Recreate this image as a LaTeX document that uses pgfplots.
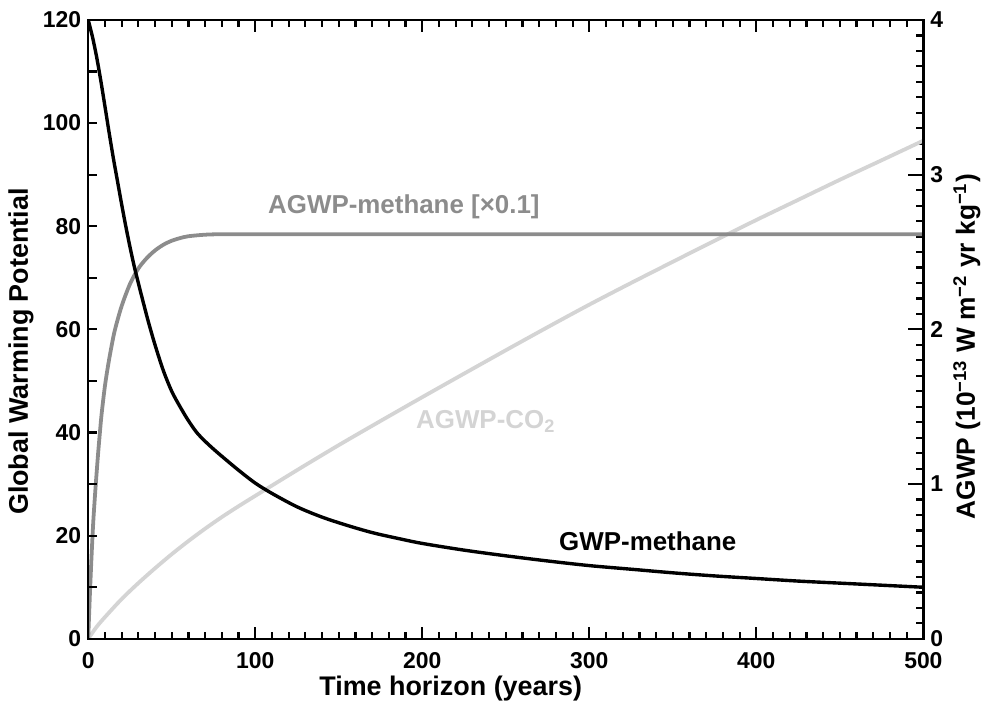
\documentclass[border=0pt]{standalone}
\usepackage{fontspec}
\setmainfont{Liberation Sans}
\usepackage{pgfplots}
\usepackage{pgfplotstable}
\pgfplotsset{compat=1.18}

\definecolor{methgray}{RGB}{140,140,140}
\definecolor{cogray}{RGB}{212,212,212}

% GWP of methane (left axis)
\pgfplotstableread{
t gwp
0 120
2.5 116.8
5 112.9
7.5 108.3
10 103.3
12.5 98.2
15 93.3
17.5 88.8
20 84.3
22.5 80
25 76
27.5 72.3
30 69
33 65.2
36 61.5
40 57
45 52
50 48
55 45
60 42.3
65 40
70 38.3
75 36.8
80 35.4
90 32.7
100 30.2
110 28.2
125 25.6
140 23.6
155 22
170 20.6
185 19.5
200 18.5
225 17.2
250 16.1
275 15.1
300 14.2
325 13.5
350 12.8
375 12.2
400 11.7
425 11.2
450 10.8
475 10.4
500 10.0
}\gwpch

% AGWP of methane x0.1 (right axis, 1e-13 W m-2 yr kg-1)
\pgfplotstableread{
t agwp
0 0
1 0.283
2 0.533
3 0.750
4 0.917
5 1.067
6 1.207
7 1.333
8 1.450
10 1.633
12 1.773
14 1.893
16 1.997
20 2.150
25 2.293
30 2.393
35 2.460
40 2.510
45 2.547
50 2.573
55 2.590
60 2.602
70 2.612
80 2.615
100 2.615
200 2.615
300 2.615
400 2.615
500 2.615
}\agwpch

% AGWP of CO2 (right axis)
\pgfplotstableread{
t agwp
0 0
5 0.077
10 0.140
20 0.257
30 0.360
40 0.456
50 0.547
60 0.632
70 0.712
80 0.787
90 0.857
100 0.924
125 1.090
150 1.252
175 1.408
200 1.562
225 1.714
250 1.865
275 2.014
300 2.160
325 2.300
350 2.437
375 2.573
400 2.707
425 2.837
450 2.967
475 3.093
500 3.220
}\agwpco

\pgfplotsset{
  common/.style={
    scale only axis, width=419pt, height=310.5pt,
    xmin=0, xmax=500,
    tick align=inside,
    axis line style={line width=1.3pt},
    every tick/.style={line width=1.1pt, black},
    /pgf/number format/assume math mode=true,
  },
}

\begin{document}
\begin{tikzpicture}[font=\fontsize{11.5}{13.8}\selectfont\bfseries]
% right axis: AGWP curves
\begin{axis}[common, name=ax2,
  ymin=0, ymax=4,
  xtick=\empty,
  ytick={0,1,2,3,4}, minor y tick num=9,
  ytick pos=right, yticklabel pos=right,
  major tick length=7.5pt, minor tick length=3.5pt,
  ylabel={AGWP (10\textsuperscript{−13} W m\textsuperscript{−2} yr kg\textsuperscript{−1})},
  ylabel style={at={(axis description cs:1.052,0.472)}, anchor=center, rotate=0,
    font=\fontsize{13.2}{15}\selectfont\bfseries},
]
\addplot[cogray, line width=1.9pt, smooth] table[x=t, y=agwp] {\agwpco};
\addplot[methgray, line width=1.9pt, smooth] table[x=t, y=agwp] {\agwpch};
\end{axis}
% left axis: GWP
\begin{axis}[common, name=ax,
  ymin=0, ymax=120,
  xtick={0,100,...,500}, minor x tick num=9,
  ytick={0,20,...,120}, minor y tick num=1,
  xtick pos=both, ytick pos=left,
  major tick length=6pt, minor tick length=3.5pt,
  ytick style={/pgfplots/major tick length=4.5pt, /pgfplots/minor tick length=4.5pt},
  xticklabel style={yshift=-3.5pt},
  xlabel={Time horizon (years)},
  xlabel style={at={(axis description cs:0.434,-0.08)}, anchor=center,
    font=\fontsize{13.5}{15}\selectfont\bfseries},
  ylabel={Global Warming Potential},
  ylabel style={at={(axis description cs:-0.0805,0.464)}, anchor=center,
    font=\fontsize{13.5}{15}\selectfont\bfseries},
]
\addplot[black, line width=1.7pt, smooth] table[x=t, y=gwp] {\gwpch};
\begin{scope}[font=\fontsize{13}{15}\selectfont\bfseries]
\node[text=methgray] at (axis cs:189,83.7) {AGWP-methane [×0.1]};
\node[text=cogray] at (axis cs:238,42.1) {AGWP-CO\textsubscript{2}};
\node at (axis cs:335,18.9) {GWP-methane};
\end{scope}
\end{axis}
\path[use as bounding box] ([shift={(-44.25pt,-32.5pt)}]ax.south west) rectangle ([shift={(30.25pt,10pt)}]ax.north east);
\end{tikzpicture}
\end{document}
